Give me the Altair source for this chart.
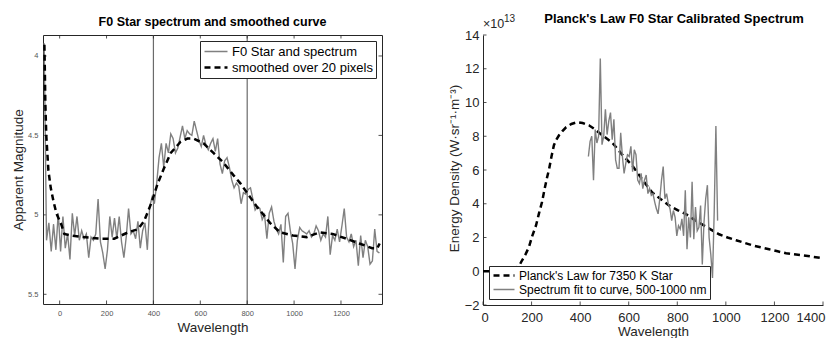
import altair as alt
import pandas as pd

FONT = "Liberation Sans"
AX = "#262626"
GRAY = "#808080"

# ---------------- Left panel data ----------------
f0_start, f0_step = -66, 10
f0_mag = [3.92,
          5.16, 5.05, 5.23, 5.06, 5.22, 4.99, 5.23, 5.01, 5.21, 5.12, 5.28, 4.99, 5.13, 5.01, 5.16,
          5.10, 5.15, 5.12, 5.27, 5.14, 5.16, 5.12, 4.90, 5.17, 5.24, 5.34, 5.22, 5.01, 5.14, 5.02,
          5.15, 5.01, 5.17, 5.27, 5.14, 4.96, 5.12, 5.10, 5.15, 5.04, 5.21, 5.10, 5.05, 5.22, 4.95,
          4.89, 4.93, 4.80, 4.64, 4.55, 4.70, 4.55, 4.61, 4.49, 4.52, 4.61, 4.58, 4.51, 4.44, 4.52,
          4.47, 4.49, 4.50, 4.41, 4.47, 4.53, 4.57, 4.50, 4.56, 4.59, 4.55, 4.52, 4.60, 4.52, 4.68,
          4.74, 4.66, 4.64, 4.70, 4.78, 4.83, 4.80, 4.82, 4.93, 4.86, 4.87, 4.84, 4.83, 4.90, 4.97,
          4.95, 4.96, 5.03, 5.00, 5.15, 4.99, 4.95, 5.04, 5.09, 5.12, 5.06, 5.30, 5.01, 4.99, 5.10,
          5.18, 5.34, 5.16, 5.08, 5.10, 5.11, 5.12, 5.10, 5.14, 5.12, 5.07, 5.10, 5.16, 5.12, 5.14,
          5.01, 5.25, 5.13, 5.16, 5.09, 5.17, 5.07, 4.96, 5.14, 5.17, 5.12, 5.20, 5.16, 5.32, 5.13,
          5.27, 5.16, 5.20, 5.31, 5.29, 5.09, 5.23, 5.24]
f0_wave = [f0_start + f0_step * i for i in range(len(f0_mag))]

smooth_wave = [-65, -63, -61, -57, -48, -38, -27, -14, 7, 20, 50, 100, 178, 233, 292, 334, 360,
               390, 419, 444, 474, 516, 545, 571, 614, 656, 698, 741, 770, 813, 842, 870, 897,
               940, 995, 1054, 1109, 1164, 1223, 1278, 1333, 1355, 1365]
smooth_mag = [3.93, 4.10, 4.30, 4.50, 4.72, 4.83, 4.91, 4.99, 5.06, 5.12, 5.13, 5.14, 5.15, 5.15,
              5.11, 5.09, 5.04, 4.93, 4.80, 4.71, 4.61, 4.54, 4.52, 4.52, 4.55, 4.61, 4.67, 4.75,
              4.80, 4.89, 4.95, 5.00, 5.05, 5.11, 5.13, 5.14, 5.11, 5.12, 5.15, 5.18, 5.21, 5.21,
              5.18]
band_edges = [400, 800]
left_series = ["F0 Star and spectrum", "smoothed over 20 pixels"]
left_xticks = [0, 200, 400, 600, 800, 1000, 1200]
left_yticks = [4, 4.5, 5, 5.5]

# ---------------- Right panel data (units of 1e13) ----------------
planck_wave = [0, 50, 100, 125, 150, 161, 175, 189, 203, 218, 230, 243, 254, 264, 272, 282, 292,
               302, 313, 327, 342, 364, 387, 410, 436, 460, 486, 508, 531, 552, 572, 593, 614,
               655, 696, 731, 766, 801, 836, 869, 902, 937, 972, 1007, 1042, 1075, 1108, 1143,
               1178, 1213, 1248, 1281, 1314, 1357, 1400]
planck_energy = [0, 0, 0.004, 0.06, 0.35, 0.65, 1.0, 1.42, 2.1, 2.7, 3.4, 4.1, 4.9, 5.57, 6.04,
                 6.8, 7.47, 7.8, 8.06, 8.3, 8.53, 8.73, 8.83, 8.78, 8.65, 8.42, 8.12, 7.88, 7.64,
                 7.28, 6.93, 6.6, 6.28, 5.45, 4.68, 4.28, 3.9, 3.62, 3.38, 3.06, 2.78, 2.48, 2.19,
                 2.0, 1.84, 1.69, 1.54, 1.42, 1.30, 1.18, 1.07, 1.01, 0.95, 0.86, 0.77]
fit_start, fit_step = 434, 7
fit_energy = [6.8, 7.7, 8.0, 5.4, 8.4, 7.6, 8.0, 12.6, 7.5, 8.0, 9.6, 8.1, 8.9, 9.4, 7.8, 9.0,
              6.6, 6.1, 6.1, 8.2, 6.8, 5.8, 6.4, 6.9, 6.8, 7.4, 5.9, 7.2, 6.9, 5.4, 5.2, 5.8,
              4.9, 5.4, 5.7, 4.6, 4.9, 4.5, 4.6, 4.1, 3.7, 3.4, 4.3, 5.4, 6.2, 4.3, 4.6, 4.0,
              3.7, 3.0, 3.6, 3.2, 2.1, 2.7, 2.5, 3.1, 2.1, 4.8, 1.3, 3.2, 2.0, 5.3, 1.9, 3.8,
              2.4, 2.6, 3.9, 0.4, 2.9, 4.3, 5.1, 2.0, 1.0, -0.4, 3.5, 8.6, 3.0]
fit_wave = [fit_start + fit_step * i for i in range(len(fit_energy))]
right_series = ["Planck's Law for 7350 K Star", "Spectrum fit to curve, 500-1000 nm"]
right_xticks = [0, 200, 400, 600, 800, 1000, 1200, 1400]
right_yticks = [-2, 0, 2, 4, 6, 8, 10, 12, 14]
exponent_base = ["×10"]
exponent_power = ["13"]

# ---------------- Left panel ----------------
LW, LH = 339, 269
RW, RH = 340, 270

lx = alt.Scale(domain=[-71, 1375], nice=False, zero=False)
ly = alt.Scale(domain=[3.868, 5.561], reverse=True, nice=False, zero=False)

left_xaxis = alt.Axis(values=left_xticks, format="d", labelFontSize=7.5, labelColor="#555555",
                      labelFont=FONT, labelFlush=False, ticks=False, domain=False, grid=False,
                      labelPadding=5, title="Wavelength", titleFont=FONT, titleFontSize=13.5,
                      titleFontWeight="normal", titleColor=AX, titleY=23,
                      titleBaseline="middle")
left_yaxis = alt.Axis(values=left_yticks, format="~g", labelFontSize=7.5, labelColor="#555555",
                      labelFont=FONT, labelFlush=False, ticks=False, domain=False, grid=False,
                      labelPadding=5, title="Apparent Magnitude", titleFont=FONT,
                      titleFontSize=13.5, titleFontWeight="normal", titleColor=AX,
                      titleX=-24.5, titleY=LH / 2, titleAngle=270, titleBaseline="middle",
                      titleAlign="center")

left_legend = alt.Legend(title=None, orient="top-right", offset=6, symbolType="stroke",
                         symbolSize=529, clipHeight=15, labelFontSize=13, labelFont=FONT,
                         labelColor="black", strokeColor=AX, fillColor="white", padding=3,
                         rowPadding=1, labelOffset=3, labelLimit=400)

l_color = alt.Color("series:N", scale=alt.Scale(domain=left_series, range=[GRAY, "black"]),
                    legend=left_legend)
l_dash = alt.StrokeDash("series:N", scale=alt.Scale(domain=left_series, range=[[1, 0], [6, 4]]),
                        legend=left_legend)
l_width = alt.StrokeWidth("series:N", scale=alt.Scale(domain=left_series, range=[1.4, 2.5]),
                          legend=left_legend)

raw_df = pd.DataFrame({"wave": f0_wave, "val": f0_mag, "series": left_series[0]})
smooth_df = pd.DataFrame({"wave": smooth_wave, "val": smooth_mag, "series": left_series[1]})

raw_line = alt.Chart(raw_df).mark_line(clip=True).encode(
    x=alt.X("wave:Q", scale=lx, axis=left_xaxis),
    y=alt.Y("val:Q", scale=ly, axis=left_yaxis),
    color=l_color, strokeDash=l_dash, strokeWidth=l_width)
smooth_line = alt.Chart(smooth_df).mark_line(clip=True).encode(
    x=alt.X("wave:Q", scale=lx, axis=left_xaxis),
    y=alt.Y("val:Q", scale=ly, axis=left_yaxis),
    color=l_color, strokeDash=l_dash, strokeWidth=l_width)

edges = alt.Chart(pd.DataFrame({"wave": band_edges})).mark_rule(
    color="#6b6b6b", strokeWidth=1.2).encode(x=alt.X("wave:Q", scale=lx, axis=left_xaxis))

lxt = pd.DataFrame({"wave": left_xticks})
lyt = pd.DataFrame({"val": left_yticks})
tk = 3.5
l_ticks = [
    alt.Chart(lxt).mark_rule(color=AX, strokeWidth=0.8).encode(
        x=alt.X("wave:Q", scale=lx, axis=left_xaxis), y=alt.value(0), y2=alt.value(tk)),
    alt.Chart(lxt).mark_rule(color=AX, strokeWidth=0.8).encode(
        x=alt.X("wave:Q", scale=lx, axis=left_xaxis), y=alt.value(LH), y2=alt.value(LH - tk)),
    alt.Chart(lyt).mark_rule(color=AX, strokeWidth=0.8).encode(
        y=alt.Y("val:Q", scale=ly, axis=left_yaxis), x=alt.value(0), x2=alt.value(tk)),
    alt.Chart(lyt).mark_rule(color=AX, strokeWidth=0.8).encode(
        y=alt.Y("val:Q", scale=ly, axis=left_yaxis), x=alt.value(LW), x2=alt.value(LW - tk)),
]

left = alt.layer(edges, *l_ticks, raw_line, smooth_line).properties(
    width=LW, height=LH,
    view=alt.ViewBackground(stroke=AX, strokeWidth=1),
    title=alt.TitleParams("F0 Star spectrum and smoothed curve", font=FONT, fontSize=12.5,
                          fontWeight="bold", color="black", offset=6, frame="group",
                          anchor="middle"))

# ---------------- Right panel ----------------
rx = alt.Scale(domain=[0, 1400], nice=False, zero=False)
ry = alt.Scale(domain=[-2, 14], nice=False, zero=False)

right_xaxis = alt.Axis(values=right_xticks, format="d", labelFontSize=13, labelColor=AX,
                       labelFont=FONT, labelFlush=True, labelFlushOffset=2, ticks=False,
                       domain=True, domainColor=AX, grid=False, labelPadding=6,
                       title="Wavelength", titleFont=FONT, titleFontSize=13.5,
                       titleFontWeight="normal", titleColor=AX, titleY=26,
                       titleBaseline="middle")
right_yaxis = alt.Axis(values=right_yticks, format="d", labelFontSize=13, labelColor=AX,
                       labelFont=FONT, labelFlush=False, ticks=False, domain=True,
                       domainColor=AX, grid=False, labelPadding=4,
                       title="Energy Density (W·sr⁻¹·m⁻³)", titleFont=FONT,
                       titleFontSize=13.5, titleFontWeight="normal", titleColor=AX,
                       titleX=-29, titleY=RH / 2 - 2, titleAngle=270, titleBaseline="middle",
                       titleAlign="center")

right_legend = alt.Legend(title=None, orient="bottom-left", offset=6, symbolType="stroke",
                          symbolSize=441, clipHeight=13, labelFontSize=12, labelFont=FONT,
                          labelColor="black", strokeColor=AX, fillColor="white", padding=3,
                          rowPadding=1, labelOffset=3, labelLimit=400)
r_color = alt.Color("series:N", scale=alt.Scale(domain=right_series, range=["black", GRAY]),
                    legend=right_legend)
r_dash = alt.StrokeDash("series:N", scale=alt.Scale(domain=right_series, range=[[6, 4], [1, 0]]),
                        legend=right_legend)
r_width = alt.StrokeWidth("series:N", scale=alt.Scale(domain=right_series, range=[2.5, 1.4]),
                          legend=right_legend)

planck_df = pd.DataFrame({"wave": planck_wave, "val": planck_energy, "series": right_series[0]})
fit_df = pd.DataFrame({"wave": fit_wave, "val": fit_energy, "series": right_series[1]})

fit_line = alt.Chart(fit_df).mark_line(clip=True).encode(
    x=alt.X("wave:Q", scale=rx, axis=right_xaxis),
    y=alt.Y("val:Q", scale=ry, axis=right_yaxis),
    color=r_color, strokeDash=r_dash, strokeWidth=r_width)
planck_line = alt.Chart(planck_df).mark_line(clip=True).encode(
    x=alt.X("wave:Q", scale=rx, axis=right_xaxis),
    y=alt.Y("val:Q", scale=ry, axis=right_yaxis),
    color=r_color, strokeDash=r_dash, strokeWidth=r_width)

rxt = pd.DataFrame({"wave": right_xticks})
ryt = pd.DataFrame({"val": right_yticks})
r_ticks = [
    alt.Chart(rxt).mark_rule(color=AX, strokeWidth=0.8).encode(
        x=alt.X("wave:Q", scale=rx, axis=right_xaxis), y=alt.value(RH), y2=alt.value(RH - tk)),
    alt.Chart(ryt).mark_rule(color=AX, strokeWidth=0.8).encode(
        y=alt.Y("val:Q", scale=ry, axis=right_yaxis), x=alt.value(0), x2=alt.value(tk)),
]

exp_base = alt.Chart(pd.DataFrame({"label": exponent_base})).mark_text(
    align="left", baseline="alphabetic", font=FONT, fontSize=12.5, color=AX).encode(
    text="label:N", x=alt.value(0), y=alt.value(-7))
exp_power = alt.Chart(pd.DataFrame({"label": exponent_power})).mark_text(
    align="left", baseline="alphabetic", font=FONT, fontSize=10, color=AX).encode(
    text="label:N", x=alt.value(21), y=alt.value(-13))

right = alt.layer(*r_ticks, planck_line, fit_line, exp_base, exp_power).properties(
    width=RW, height=RH,
    title=alt.TitleParams("Planck's Law F0 Star Calibrated Spectrum", font=FONT, fontSize=13,
                          fontWeight="bold", color="black", offset=-12, frame="group",
                          anchor="middle", dx=21))

chart = alt.hconcat(left, right, spacing=101, bounds="flush").resolve_scale(
    x="independent", y="independent", color="independent", strokeDash="independent",
    strokeWidth="independent").configure_view(stroke="transparent").properties(
    padding={"left": 3, "top": 4, "right": 0, "bottom": 0})

chart.save("out.html", embed_options={"renderer": "svg", "actions": False})
